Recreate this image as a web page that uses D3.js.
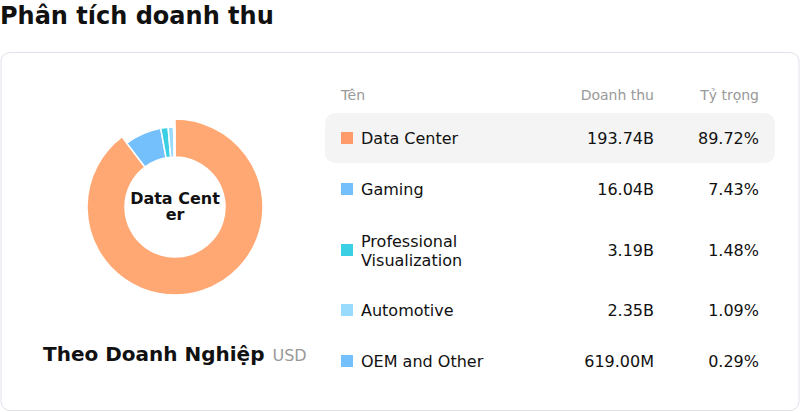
<!DOCTYPE html>
<html>
<head>
<meta charset="utf-8">
<script src="https://cdn.jsdelivr.net/npm/d3@7"></script>
<style>
  body { margin: 0; background: #fff; font-family: "DejaVu Sans", sans-serif; }
</style>
</head>
<body>
<svg id="chart"></svg>
<script>
// chart data
const names = ["Data Center", "Gaming", "Professional Visualization", "Automotive", "OEM and Other"];
const nameLines = [["Data Center"], ["Gaming"], ["Professional", "Visualization"], ["Automotive"], ["OEM and Other"]];
const revenue = [193.74e9, 16.04e9, 3.19e9, 2.35e9, 619.00e6];
const revenueLabels = ["193.74B", "16.04B", "3.19B", "2.35B", "619.00M"];
const shareLabels = ["89.72%", "7.43%", "1.48%", "1.09%", "0.29%"];
const headers = ["Tên", "Doanh thu", "Tỷ trọng"];
const centerLines = ["Data Cent", "er"];
const sliceColors = ["#ffa873", "#74c0fc", "#3bcfe4", "#99dbfd", "#74c0fc"];
const keyColors = ["#ff9a6a", "#74c0fc", "#3bcfe4", "#99dbfd", "#74c0fc"];

const width = 800, height = 412;
const active = 0;

const svg = d3.select("#chart")
    .attr("width", width)
    .attr("height", height)
    .attr("viewBox", [0, 0, width, height]);

// title
svg.append("text")
    .attr("x", 0).attr("y", 24)
    .attr("font-size", 24).attr("font-weight", "bold")
    .attr("fill", "#111")
    .text("Phân tích doanh thu");

// card
svg.append("rect")
    .attr("x", 1).attr("y", 52.5)
    .attr("width", 798).attr("height", 358)
    .attr("rx", 9)
    .attr("fill", "#fff")
    .attr("stroke", "#e1e0ea");

// donut
const cx = 175, cy = 207;
const pie = d3.pie().sort(null).value(d => d)
    .startAngle(0).endAngle(2 * Math.PI);
const arcs = pie(revenue);

const arc = d3.arc().innerRadius(50);

svg.append("g")
    .attr("transform", `translate(${cx},${cy})`)
    .selectAll("path")
    .data(arcs)
    .join("path")
    .attr("d", (d, i) => arc.outerRadius(i === active ? 88 : 80)(d))
    .attr("fill", (d, i) => sliceColors[i])
    .attr("stroke", "#fff")
    .attr("stroke-width", 1.5);

// center label (wrapped like the original)
svg.append("g")
    .selectAll("text")
    .data(centerLines)
    .join("text")
    .attr("x", cx)
    .attr("y", (d, i) => 204 + i * 16)
    .attr("text-anchor", "middle")
    .attr("font-size", 16).attr("font-weight", "bold")
    .attr("fill", "#111")
    .text(d => d);

// subtitle
const sub = svg.append("text")
    .attr("x", 43).attr("y", 361);
sub.append("tspan")
    .attr("font-size", 20).attr("font-weight", "bold").attr("fill", "#111")
    .text("Theo Doanh Nghiệp");
sub.append("tspan")
    .attr("dx", 8)
    .attr("font-size", 16).attr("fill", "#999")
    .text("USD");

// table
const colName = 341, colRev = 654, colShare = 759;
svg.append("text").attr("x", colName).attr("y", 100)
    .attr("font-size", 14).attr("fill", "#999").text(headers[0]);
svg.append("text").attr("x", colRev).attr("y", 100).attr("text-anchor", "end")
    .attr("font-size", 14).attr("fill", "#999").text(headers[1]);
svg.append("text").attr("x", colShare).attr("y", 100).attr("text-anchor", "end")
    .attr("font-size", 14).attr("fill", "#999").text(headers[2]);

// row centres: the two-line row takes more room
const rowCenters = [138, 189, 250, 310, 361];

svg.append("rect")
    .attr("x", 325).attr("y", 113)
    .attr("width", 450).attr("height", 50)
    .attr("rx", 10)
    .attr("fill", "#f4f4f4");

const rows = svg.append("g")
    .selectAll("g")
    .data(names)
    .join("g")
    .attr("transform", (d, i) => `translate(0,${rowCenters[i]})`);

rows.append("rect")
    .attr("x", colName).attr("y", -6)
    .attr("width", 12).attr("height", 12)
    .attr("fill", (d, i) => keyColors[i]);

rows.append("text")
    .attr("font-size", 16).attr("fill", "#111")
    .each(function (d, i) {
        const lines = nameLines[i];
        const t = d3.select(this);
        lines.forEach((l, j) => {
            t.append("tspan")
                .attr("x", 361)
                .attr("y", 6 + (j - (lines.length - 1) / 2) * 19)
                .text(l);
        });
    });

rows.append("text")
    .attr("x", colRev).attr("y", 6)
    .attr("text-anchor", "end")
    .attr("font-size", 16).attr("fill", "#111")
    .text((d, i) => revenueLabels[i]);

rows.append("text")
    .attr("x", colShare).attr("y", 6)
    .attr("text-anchor", "end")
    .attr("font-size", 16).attr("fill", "#111")
    .text((d, i) => shareLabels[i]);
</script>
</body>
</html>
